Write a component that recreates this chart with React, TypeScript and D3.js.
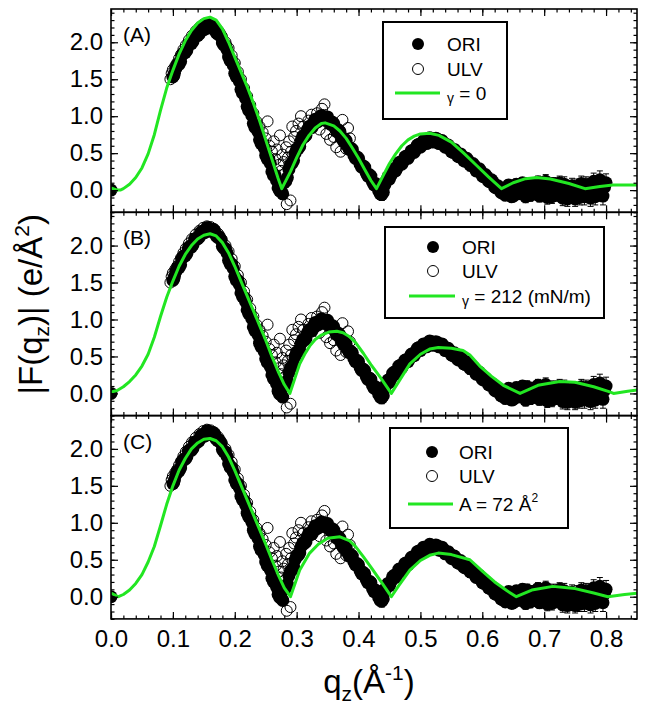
import React, { useEffect, useRef } from 'react';
import * as d3 from 'd3';

// panel tags and fit legends
const panelTags = ['(A)', '(B)', '(C)'];
const fitSymbols = ['γ', 'γ', ''];
const fitTexts = [' = 0', ' = 212 (mN/m)', 'A = 72 Å'];
const fitSups = ['', '', '2'];

const xTicks = [0, 0.1, 0.2, 0.3, 0.4, 0.5, 0.6, 0.7, 0.8];
const yTicks = [0, 0.5, 1.0, 1.5, 2.0];

// ORI: [qz, |F|, error]
const oriPoints: [number, number, number][] = [
  [0.0, 0.0, 0.02],
  [0.100, 1.53, 0.02], [0.105, 1.65, 0.02], [0.110, 1.70, 0.02], [0.115, 1.83, 0.02], [0.120, 1.86, 0.02],
  [0.125, 1.97, 0.02], [0.130, 1.98, 0.02], [0.135, 2.09, 0.02], [0.140, 2.09, 0.02], [0.145, 2.18, 0.02],
  [0.150, 2.17, 0.02], [0.155, 2.24, 0.02], [0.160, 2.20, 0.02], [0.165, 2.22, 0.02], [0.170, 2.13, 0.02],
  [0.175, 2.12, 0.02], [0.180, 1.99, 0.02], [0.185, 1.96, 0.02], [0.190, 1.80, 0.02], [0.195, 1.75, 0.02],
  [0.200, 1.58, 0.02], [0.205, 1.53, 0.02], [0.210, 1.36, 0.02], [0.215, 1.30, 0.02], [0.220, 1.13, 0.02],
  [0.225, 1.07, 0.02], [0.230, 0.90, 0.02], [0.235, 0.85, 0.02], [0.240, 0.68, 0.02], [0.245, 0.63, 0.02],
  [0.250, 0.47, 0.02], [0.255, 0.42, 0.02], [0.260, 0.25, 0.02], [0.265, 0.20, 0.03], [0.270, 0.03, 0.03],
  [0.275, -0.02, 0.04], [0.280, 0.10, 0.03], [0.285, 0.17, 0.03], [0.290, 0.35, 0.03], [0.295, 0.40, 0.03],
  [0.300, 0.56, 0.03], [0.305, 0.59, 0.03], [0.310, 0.73, 0.03], [0.315, 0.74, 0.03], [0.320, 0.86, 0.03],
  [0.325, 0.85, 0.03], [0.330, 0.96, 0.03], [0.335, 0.93, 0.03], [0.340, 1.01, 0.03], [0.345, 0.95, 0.03],
  [0.350, 0.99, 0.03], [0.355, 0.89, 0.03], [0.360, 0.90, 0.03], [0.365, 0.79, 0.03], [0.370, 0.79, 0.03],
  [0.375, 0.67, 0.03], [0.380, 0.67, 0.03], [0.385, 0.55, 0.03], [0.390, 0.55, 0.03], [0.395, 0.43, 0.04],
  [0.400, 0.43, 0.04], [0.405, 0.31, 0.04], [0.410, 0.31, 0.04], [0.415, 0.19, 0.04], [0.420, 0.19, 0.04],
  [0.425, 0.07, 0.05], [0.430, 0.07, 0.05], [0.435, -0.05, 0.07], [0.440, -0.03, 0.08], [0.445, 0.13, 0.05],
  [0.450, 0.15, 0.04], [0.455, 0.27, 0.04], [0.460, 0.26, 0.04], [0.465, 0.37, 0.04], [0.470, 0.35, 0.04],
  [0.475, 0.45, 0.04], [0.480, 0.43, 0.04], [0.485, 0.53, 0.04], [0.490, 0.51, 0.04], [0.495, 0.61, 0.04],
  [0.500, 0.58, 0.04], [0.505, 0.67, 0.04], [0.510, 0.63, 0.04], [0.515, 0.71, 0.04], [0.520, 0.65, 0.04],
  [0.525, 0.70, 0.04], [0.530, 0.63, 0.04], [0.535, 0.67, 0.04], [0.540, 0.58, 0.04], [0.545, 0.61, 0.04],
  [0.550, 0.52, 0.04], [0.555, 0.55, 0.05], [0.560, 0.46, 0.05], [0.565, 0.49, 0.05], [0.570, 0.40, 0.05],
  [0.575, 0.43, 0.05], [0.580, 0.34, 0.08], [0.585, 0.36, 0.05], [0.590, 0.26, 0.05], [0.595, 0.29, 0.05],
  [0.600, 0.19, 0.05], [0.605, 0.21, 0.05], [0.610, 0.12, 0.05], [0.615, 0.14, 0.06], [0.620, 0.04, 0.06],
  [0.625, 0.06, 0.06], [0.630, -0.03, 0.06], [0.635, 0.00, 0.06], [0.640, -0.06, 0.07], [0.645, 0.05, 0.07],
  [0.650, -0.08, 0.07], [0.655, 0.08, 0.07], [0.660, -0.04, 0.07], [0.665, 0.10, 0.07], [0.670, -0.09, 0.08],
  [0.675, 0.02, 0.08], [0.680, 0.07, 0.08], [0.685, -0.05, 0.08], [0.690, 0.11, 0.08], [0.695, -0.02, 0.08],
  [0.700, 0.09, 0.09], [0.705, -0.10, 0.09], [0.710, 0.04, 0.09], [0.715, 0.08, 0.09], [0.720, -0.06, 0.09],
  [0.725, 0.10, 0.09], [0.730, -0.11, 0.10], [0.735, 0.03, 0.10], [0.740, -0.08, 0.10], [0.745, 0.06, 0.10],
  [0.750, -0.12, 0.10], [0.755, 0.00, 0.10], [0.760, 0.09, 0.10], [0.765, -0.09, 0.11], [0.770, 0.05, 0.11],
  [0.775, -0.11, 0.11], [0.780, 0.12, 0.11], [0.785, -0.04, 0.11], [0.790, 0.14, 0.12], [0.795, -0.08, 0.12],
  [0.800, 0.10, 0.12],
];

// ORI, second scan interleaved: [qz, |F|, error]
const oriPoints2: [number, number, number][] = [
  [0.1025, 1.58, 0.02], [0.1075, 1.70, 0.02], [0.1125, 1.74, 0.02], [0.1175, 1.86, 0.02], [0.1225, 1.89, 0.02],
  [0.1275, 1.99, 0.02], [0.1325, 2.01, 0.02], [0.1375, 2.10, 0.02], [0.1425, 2.11, 0.02], [0.1475, 2.19, 0.02],
  [0.1525, 2.18, 0.02], [0.1575, 2.24, 0.02], [0.1625, 2.19, 0.02], [0.1675, 2.20, 0.02], [0.1725, 2.11, 0.02],
  [0.1775, 2.08, 0.02], [0.1825, 1.96, 0.02], [0.1875, 1.90, 0.02], [0.1925, 1.75, 0.02], [0.1975, 1.69, 0.02],
  [0.2025, 1.53, 0.02], [0.2075, 1.47, 0.02], [0.2125, 1.31, 0.02], [0.2175, 1.24, 0.02], [0.2225, 1.08, 0.02],
  [0.2275, 1.01, 0.02], [0.2325, 0.85, 0.02], [0.2375, 0.79, 0.02], [0.2425, 0.63, 0.02], [0.2475, 0.57, 0.02],
  [0.2525, 0.42, 0.02], [0.2575, 0.36, 0.02], [0.2625, 0.20, 0.03], [0.2675, 0.13, 0.03], [0.2725, -0.01, 0.04],
  [0.2775, -0.05, 0.04], [0.2825, 0.12, 0.03], [0.2875, 0.28, 0.03], [0.2925, 0.36, 0.03], [0.2975, 0.50, 0.03],
  [0.3025, 0.56, 0.03], [0.3075, 0.68, 0.03], [0.3125, 0.72, 0.03], [0.3175, 0.82, 0.03], [0.3225, 0.84, 0.03],
  [0.3275, 0.92, 0.03], [0.3325, 0.92, 0.03], [0.3375, 0.99, 0.03], [0.3425, 0.96, 0.03], [0.3475, 0.99, 0.03],
  [0.3525, 0.92, 0.03], [0.3575, 0.92, 0.03], [0.3625, 0.83, 0.03], [0.3675, 0.81, 0.03], [0.3725, 0.71, 0.03],
  [0.3775, 0.69, 0.03], [0.3825, 0.59, 0.03], [0.3875, 0.57, 0.03], [0.3925, 0.47, 0.04], [0.3975, 0.45, 0.04],
  [0.4025, 0.35, 0.04], [0.4075, 0.33, 0.04], [0.4125, 0.23, 0.04], [0.4175, 0.21, 0.04], [0.4225, 0.11, 0.05],
  [0.4275, 0.09, 0.05], [0.4325, -0.01, 0.06], [0.4375, -0.06, 0.08], [0.4425, 0.07, 0.05], [0.4475, 0.18, 0.04],
  [0.4525, 0.20, 0.04], [0.4575, 0.29, 0.04], [0.4625, 0.30, 0.04], [0.4675, 0.38, 0.04], [0.4725, 0.39, 0.04],
  [0.4775, 0.46, 0.04], [0.4825, 0.47, 0.04], [0.4875, 0.54, 0.04], [0.4925, 0.55, 0.04], [0.4975, 0.62, 0.04],
  [0.5025, 0.61, 0.04], [0.5075, 0.67, 0.04], [0.5125, 0.66, 0.04], [0.5175, 0.70, 0.04], [0.5225, 0.66, 0.04],
  [0.5275, 0.69, 0.04], [0.5325, 0.63, 0.04], [0.5375, 0.64, 0.04], [0.5425, 0.58, 0.04], [0.5475, 0.58, 0.04],
  [0.5525, 0.51, 0.05], [0.5575, 0.52, 0.05], [0.5625, 0.45, 0.05], [0.5675, 0.46, 0.05], [0.5725, 0.39, 0.05],
  [0.5775, 0.40, 0.05], [0.5825, 0.33, 0.05], [0.5875, 0.33, 0.05], [0.5925, 0.26, 0.05], [0.5975, 0.26, 0.05],
  [0.6025, 0.18, 0.05], [0.6075, 0.18, 0.05], [0.6125, 0.11, 0.06], [0.6175, 0.11, 0.06], [0.6225, 0.03, 0.06],
  [0.6275, 0.03, 0.06], [0.6325, -0.04, 0.06], [0.6375, -0.07, 0.07], [0.6425, 0.07, 0.07], [0.6475, -0.09, 0.07],
  [0.6525, 0.02, 0.07], [0.6575, -0.05, 0.07], [0.6625, 0.06, 0.07], [0.6675, -0.02, 0.08], [0.6725, 0.09, 0.08],
  [0.6775, -0.07, 0.08], [0.6825, 0.01, 0.08], [0.6875, 0.05, 0.08], [0.6925, -0.08, 0.08], [0.6975, 0.03, 0.09],
  [0.7025, 0.12, 0.09], [0.7075, -0.04, 0.09], [0.7125, -0.09, 0.09], [0.7175, 0.06, 0.09], [0.7225, 0.01, 0.09],
  [0.7275, -0.05, 0.10], [0.7325, 0.08, 0.10], [0.7375, -0.12, 0.10], [0.7425, 0.01, 0.10], [0.7475, -0.06, 0.10],
  [0.7525, 0.05, 0.10], [0.7575, -0.10, 0.10], [0.7625, -0.02, 0.11], [0.7675, 0.07, 0.11], [0.7725, -0.06, 0.11],
  [0.7775, 0.02, 0.11], [0.7825, -0.09, 0.11], [0.7875, 0.06, 0.12], [0.7925, 0.00, 0.12], [0.7975, 0.04, 0.12],
];

// ULV: [qz, |F|]
const ulvPoints: [number, number][] = [
  [0.096, 1.50], [0.098, 1.58], [0.100, 1.63], [0.102, 1.54], [0.104, 1.68], [0.107, 1.72], [0.110, 1.78],
  [0.113, 1.83], [0.117, 1.90], [0.121, 1.96], [0.126, 2.03], [0.131, 2.09], [0.137, 2.15], [0.143, 2.20],
  [0.149, 2.24], [0.155, 2.26], [0.161, 2.25], [0.167, 2.22], [0.173, 2.16], [0.179, 2.08], [0.185, 2.00],
  [0.190, 1.92], [0.195, 1.82], [0.200, 1.72], [0.205, 1.60], [0.210, 1.50], [0.215, 1.38], [0.220, 1.27],
  [0.225, 1.15], [0.230, 1.04], [0.235, 0.93], [0.240, 0.86], [0.245, 0.78], [0.250, 0.70], [0.253, 0.93],
  [0.256, 0.60], [0.260, 0.52], [0.263, 0.66], [0.266, 0.42], [0.268, 0.55], [0.271, 0.34], [0.273, 0.74],
  [0.275, 0.26], [0.277, 0.48], [0.279, 0.38], [0.281, 0.22], [0.283, 0.58], [0.284, -0.19], [0.286, 0.44],
  [0.288, 0.66], [0.290, -0.14], [0.291, 0.52], [0.293, 0.86], [0.296, 0.72], [0.299, 0.80], [0.303, 0.90],
  [0.307, 1.00], [0.311, 0.86], [0.315, 0.78], [0.319, 0.94], [0.324, 1.02], [0.328, 0.88], [0.333, 1.04],
  [0.337, 0.82], [0.341, 1.10], [0.345, 1.16], [0.348, 0.76], [0.351, 0.96], [0.354, 0.68], [0.357, 0.88],
  [0.360, 0.72], [0.364, 0.58], [0.368, 0.82], [0.371, 0.52], [0.374, 0.95], [0.377, 0.64], [0.380, 0.56],
  [0.383, 0.84], [0.386, 0.70],
];

// fit, gamma = 0
const fitA: [number, number][] = [
  [0.000, 0.03], [0.010, 0.00], [0.015, 0.00], [0.020, 0.02], [0.030, 0.08], [0.040, 0.17], [0.050, 0.30],
  [0.060, 0.49], [0.070, 0.75], [0.080, 1.08], [0.090, 1.38], [0.100, 1.62], [0.110, 1.84], [0.120, 2.02],
  [0.130, 2.16], [0.140, 2.26], [0.150, 2.32], [0.160, 2.34], [0.170, 2.30], [0.180, 2.18], [0.190, 2.00],
  [0.200, 1.80], [0.210, 1.60], [0.220, 1.40], [0.230, 1.18], [0.240, 0.94], [0.250, 0.68], [0.260, 0.42],
  [0.270, 0.16], [0.276, 0.02], [0.290, 0.25], [0.300, 0.44], [0.310, 0.61], [0.320, 0.74], [0.330, 0.84],
  [0.340, 0.90], [0.346, 0.91], [0.360, 0.87], [0.370, 0.80], [0.380, 0.70], [0.390, 0.57], [0.400, 0.43],
  [0.410, 0.28], [0.420, 0.13], [0.429, 0.02], [0.440, 0.20], [0.450, 0.36], [0.460, 0.49], [0.470, 0.60],
  [0.480, 0.68], [0.490, 0.73], [0.500, 0.76], [0.515, 0.77], [0.530, 0.74], [0.550, 0.65], [0.570, 0.50],
  [0.590, 0.34], [0.610, 0.18], [0.631, 0.02], [0.650, 0.10], [0.670, 0.155], [0.688, 0.17], [0.710, 0.15],
  [0.740, 0.09], [0.766, 0.02], [0.790, 0.05], [0.811, 0.07], [0.850, 0.07],
];

// fit, gamma = 212 mN/m
const fitB: [number, number][] = [
  [0.000, 0.02], [0.010, 0.04], [0.020, 0.09], [0.030, 0.16], [0.040, 0.25], [0.050, 0.37], [0.060, 0.53],
  [0.070, 0.76], [0.080, 1.04], [0.090, 1.30], [0.100, 1.52], [0.110, 1.72], [0.120, 1.88], [0.130, 2.00],
  [0.140, 2.09], [0.150, 2.14], [0.160, 2.16], [0.170, 2.13], [0.180, 2.04], [0.190, 1.90], [0.200, 1.72],
  [0.210, 1.52], [0.220, 1.32], [0.230, 1.12], [0.240, 0.92], [0.250, 0.72], [0.260, 0.50], [0.270, 0.30],
  [0.280, 0.12], [0.289, 0.00], [0.297, 0.20], [0.305, 0.40], [0.313, 0.53], [0.321, 0.64], [0.330, 0.73],
  [0.340, 0.79], [0.352, 0.83], [0.365, 0.84], [0.375, 0.82], [0.385, 0.77], [0.395, 0.69], [0.408, 0.54],
  [0.420, 0.39], [0.435, 0.22], [0.453, 0.00], [0.465, 0.16], [0.483, 0.40], [0.500, 0.53], [0.515, 0.60],
  [0.529, 0.62], [0.550, 0.61], [0.569, 0.58], [0.580, 0.52], [0.596, 0.37], [0.615, 0.23], [0.634, 0.11],
  [0.661, 0.00], [0.690, 0.11], [0.725, 0.16], [0.750, 0.15], [0.780, 0.09], [0.806, 0.02], [0.812, 0.00],
  [0.835, 0.03], [0.855, 0.05],
];

// fit, A = 72 Å^2
const fitC: [number, number][] = [
  [0.000, 0.05], [0.012, 0.00], [0.020, 0.03], [0.030, 0.09], [0.040, 0.18], [0.050, 0.30], [0.060, 0.47],
  [0.070, 0.68], [0.080, 0.96], [0.090, 1.25], [0.100, 1.50], [0.110, 1.71], [0.120, 1.87], [0.130, 2.00],
  [0.140, 2.08], [0.150, 2.13], [0.160, 2.14], [0.170, 2.11], [0.180, 2.03], [0.190, 1.89], [0.200, 1.71],
  [0.210, 1.51], [0.220, 1.31], [0.230, 1.11], [0.240, 0.91], [0.250, 0.71], [0.260, 0.50], [0.270, 0.30],
  [0.280, 0.12], [0.290, 0.00], [0.305, 0.36], [0.321, 0.59], [0.335, 0.71], [0.350, 0.79], [0.370, 0.81],
  [0.385, 0.76], [0.395, 0.68], [0.408, 0.54], [0.420, 0.40], [0.435, 0.22], [0.453, 0.00], [0.465, 0.15],
  [0.483, 0.36], [0.500, 0.49], [0.515, 0.56], [0.529, 0.59], [0.550, 0.57], [0.580, 0.50], [0.601, 0.34],
  [0.620, 0.20], [0.640, 0.08], [0.655, 0.00], [0.680, 0.09], [0.714, 0.14], [0.750, 0.11], [0.780, 0.05],
  [0.803, 0.00], [0.830, 0.03], [0.855, 0.05],
];

const fits = [fitA, fitB, fitC];

const FONT = 'Arial, "Liberation Sans", Helvetica, sans-serif';
const GREEN = '#22e622';

function App() {
  const ref = useRef<SVGSVGElement>(null);

  useEffect(() => {
    draw();
  }, []);

  function draw() {
    const width = 649;
    const height = 706;
    const left = 111;
    const right = 637;
    const top = 9;
    const panelH = 203.3;

    const svg = d3.select(ref.current);
    svg.selectAll('*').remove();
    svg.attr('width', width).attr('height', height);

    const x = d3.scaleLinear().domain([0, 0.85]).range([left, right]);
    const xMinor = d3.range(0, 0.851, 0.02);
    const yMinor = d3.range(-0.3, 2.45, 0.1);
    const ori = oriPoints.concat(oriPoints2);

    // legend boxes, one per panel
    const legends = [
      { x: 383, y: 22, w: 124, h: 97, mx: 418, rows: [44, 69, 93], tx: 447, l0: 395, l1: 440 },
      { x: 385, y: 227, w: 219, h: 91, mx: 433, rows: [247, 271, 296], tx: 462, l0: 409, l1: 455 },
      { x: 390, y: 428, w: 178, h: 100, mx: 432, rows: [452, 476, 504], tx: 459, l0: 408, l1: 453 },
    ];

    fits.forEach((fit, i) => {
      const y0 = top + i * panelH;
      const y = d3.scaleLinear().domain([-0.3, 2.45]).range([y0 + panelH, y0]);

      svg.append('clipPath').attr('id', `clip${i}`)
        .append('rect')
        .attr('x', left).attr('y', y0)
        .attr('width', right - left).attr('height', panelH);

      const plot = svg.append('g').attr('clip-path', `url(#clip${i})`);

      // error bars for ORI
      const eb = plot.append('g').attr('stroke', '#000').attr('stroke-width', 1);
      eb.selectAll('line.bar').data(ori).join('line')
        .attr('class', 'bar')
        .attr('x1', d => x(d[0])).attr('x2', d => x(d[0]))
        .attr('y1', d => y(d[1] - d[2])).attr('y2', d => y(d[1] + d[2]));
      eb.selectAll('line.capt').data(ori).join('line')
        .attr('class', 'capt')
        .attr('x1', d => x(d[0]) - 3).attr('x2', d => x(d[0]) + 3)
        .attr('y1', d => y(d[1] + d[2])).attr('y2', d => y(d[1] + d[2]));
      eb.selectAll('line.capb').data(ori).join('line')
        .attr('class', 'capb')
        .attr('x1', d => x(d[0]) - 3).attr('x2', d => x(d[0]) + 3)
        .attr('y1', d => y(d[1] - d[2])).attr('y2', d => y(d[1] - d[2]));

      plot.append('g').selectAll('circle').data(ori).join('circle')
        .attr('cx', d => x(d[0])).attr('cy', d => y(d[1]))
        .attr('r', 6.5).attr('fill', '#000');

      plot.append('g').selectAll('circle').data(ulvPoints).join('circle')
        .attr('cx', d => x(d[0])).attr('cy', d => y(d[1]))
        .attr('r', 5.5).attr('fill', 'none')
        .attr('stroke', '#000').attr('stroke-width', 1);

      const line = d3.line<[number, number]>()
        .x(d => x(d[0]))
        .y(d => y(d[1]));
      plot.append('path')
        .datum(fit)
        .attr('fill', 'none')
        .attr('stroke', GREEN)
        .attr('stroke-width', 3)
        .attr('stroke-linejoin', 'round')
        .attr('d', line);

      // axes, ticks pointing inward
      const axes = svg.append('g').attr('class', 'axes');
      const fmt = d3.format('.1f');
      axes.append('g').attr('transform', `translate(${left},0)`)
        .call(d3.axisLeft(y).tickValues(yTicks).tickSize(-7).tickSizeOuter(0).tickPadding(8).tickFormat(d => fmt(d as number)));
      axes.append('g').attr('transform', `translate(${left},0)`)
        .call(d3.axisLeft(y).tickValues(yMinor).tickSize(-3.5).tickSizeOuter(0).tickFormat(() => ''));
      axes.append('g').attr('transform', `translate(${right},0)`)
        .call(d3.axisRight(y).tickValues(yTicks).tickSize(-7).tickSizeOuter(0).tickFormat(() => ''));
      axes.append('g').attr('transform', `translate(${right},0)`)
        .call(d3.axisRight(y).tickValues(yMinor).tickSize(-3.5).tickSizeOuter(0).tickFormat(() => ''));
      axes.append('g').attr('transform', `translate(0,${y0})`)
        .call(d3.axisTop(x).tickValues(xTicks).tickSize(-7).tickSizeOuter(0).tickFormat(() => ''));
      axes.append('g').attr('transform', `translate(0,${y0})`)
        .call(d3.axisTop(x).tickValues(xMinor).tickSize(-3.5).tickSizeOuter(0).tickFormat(() => ''));
      const showX = i === fits.length - 1;
      axes.append('g').attr('transform', `translate(0,${y0 + panelH})`)
        .call(d3.axisBottom(x).tickValues(xTicks).tickSize(-7).tickSizeOuter(0).tickPadding(11)
          .tickFormat(d => (showX ? fmt(d as number) : '')));
      axes.append('g').attr('transform', `translate(0,${y0 + panelH})`)
        .call(d3.axisBottom(x).tickValues(xMinor).tickSize(-3.5).tickSizeOuter(0).tickFormat(() => ''));

      axes.selectAll('.domain').remove();
      axes.selectAll('.tick line').attr('stroke', '#000').attr('stroke-width', 1.2);
      axes.selectAll('.tick text')
        .attr('font-family', FONT).attr('font-size', 24).attr('fill', '#000');

      svg.append('rect')
        .attr('x', left).attr('y', y0)
        .attr('width', right - left).attr('height', panelH)
        .attr('fill', 'none').attr('stroke', '#000').attr('stroke-width', 1.6);

      svg.append('text')
        .attr('x', 123).attr('y', y0 + 33)
        .attr('font-family', FONT).attr('font-size', 21)
        .text(panelTags[i]);

      // legend
      const lg = legends[i];
      const leg = svg.append('g').attr('font-family', FONT).attr('font-size', 19);
      leg.append('rect')
        .attr('x', lg.x).attr('y', lg.y).attr('width', lg.w).attr('height', lg.h)
        .attr('fill', '#fff').attr('stroke', '#000').attr('stroke-width', 2);
      leg.append('circle').attr('cx', lg.mx).attr('cy', lg.rows[0]).attr('r', 6).attr('fill', '#000');
      leg.append('text').attr('x', lg.tx).attr('y', lg.rows[0] + 7).text('ORI');
      leg.append('circle').attr('cx', lg.mx).attr('cy', lg.rows[1]).attr('r', 5.5)
        .attr('fill', 'none').attr('stroke', '#000').attr('stroke-width', 1);
      leg.append('text').attr('x', lg.tx).attr('y', lg.rows[1] + 7).text('ULV');
      leg.append('line')
        .attr('x1', lg.l0).attr('x2', lg.l1).attr('y1', lg.rows[2]).attr('y2', lg.rows[2])
        .attr('stroke', GREEN).attr('stroke-width', 3);
      const ft = leg.append('text').attr('x', fitSymbols[i] ? lg.l1 + 7 : lg.tx).attr('y', lg.rows[2] + 7);
      if (fitSymbols[i]) {
        ft.append('tspan').attr('font-size', 14).attr('dy', 3).text(fitSymbols[i]);
        ft.append('tspan').attr('dy', -3).text(fitTexts[i]);
      } else {
        ft.append('tspan').text(fitTexts[i]);
      }
      if (fitSups[i]) {
        ft.append('tspan').attr('font-size', 12).attr('dy', -9).text(fitSups[i]);
      }
    });

    // axis titles
    const yt = svg.append('text')
      .attr('transform', 'translate(42,214) rotate(-90)')
      .attr('text-anchor', 'end')
      .attr('font-family', FONT).attr('font-size', 33);
    yt.append('tspan').text('|F(q');
    yt.append('tspan').attr('font-size', 21).attr('dy', 7).text('z');
    yt.append('tspan').attr('dy', -7).text(')| (e/Å');
    yt.append('tspan').attr('font-size', 21).attr('dy', -13).text('2');
    yt.append('tspan').attr('dy', 13).text(')');

    const xt = svg.append('text')
      .attr('x', 369).attr('y', 693)
      .attr('text-anchor', 'middle')
      .attr('font-family', FONT).attr('font-size', 33);
    xt.append('tspan').text('q');
    xt.append('tspan').attr('font-size', 21).attr('dy', 8).text('z');
    xt.append('tspan').attr('dy', -8).text('(Å');
    xt.append('tspan').attr('font-size', 21).attr('dy', -13).text('-1');
    xt.append('tspan').attr('dy', 13).text(')');
  }

  return (
    <svg ref={ref} width={649} height={706}
      style={{ position: 'absolute', left: 0, top: 0, background: '#fff' }} />
  );
}

export default App;
